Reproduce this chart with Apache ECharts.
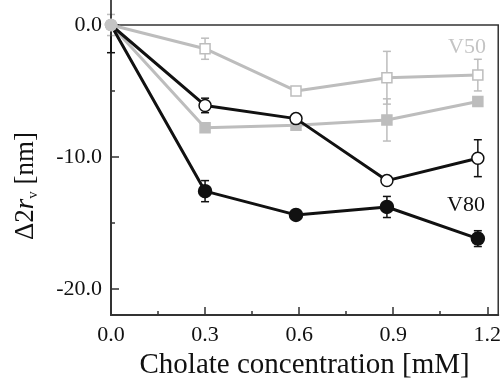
<!DOCTYPE html>
<html>
<head>
<meta charset="utf-8">
<script src="https://cdn.jsdelivr.net/npm/echarts@6/dist/echarts.min.js"></script>
<style>
  html, body { margin: 0; padding: 0; background: #fff; }
  #main { width: 504px; height: 385px; }
</style>
</head>
<body>
<div id="main"></div>
<script>
// x 值 (mM)
var conc = [0, 0.3, 0.59, 0.88, 1.17];
// V50 空心方块 / 实心方块
var v50Open = [0, -1.8, -5.0, -4.0, -3.8];
var v50OpenErr = [0.8, 0.8, 0, 2.0, 1.2];
var v50Fill = [0, -7.8, -7.6, -7.2, -5.8];
var v50FillErr = [0, 0, 0, 1.6, 0];
// V80 空心圆 / 实心圆
var v80Open = [0, -6.1, -7.1, -11.8, -10.1];
var v80OpenErr = [2.1, 0.55, 0.3, 0.3, 1.4];
var v80Fill = [0, -12.6, -14.4, -13.8, -16.2];
var v80FillErr = [0, 0.8, 0, 0.8, 0.6];
// 刻度
var xMajor = [0, 0.3, 0.6, 0.9, 1.2];
var xMinor = [0.15, 0.45, 0.75, 1.05];
var yMajor = [-20, -10, 0];
var yMinor = [-15, -5];

var GRAY = '#bdbdbd';
var BLACK = '#111';
var FONT = '"Liberation Serif", "DejaVu Serif", serif';

var chart = echarts.init(document.getElementById('main'));

function pts(ys) {
  return conc.map(function (x, i) {
    if (i === 0) {
      // 原点画成灰色圆点
      return { value: [x, ys[i]], symbol: 'circle', symbolSize: 11,
        itemStyle: { color: '#c4c4c4', borderColor: '#c4c4c4' } };
    }
    return [x, ys[i]];
  });
}

function errData(ys, es) {
  var out = [];
  conc.forEach(function (x, i) {
    if (es[i] > 0) out.push([x, ys[i], es[i]]);
  });
  return out;
}

// 误差棒
function errSeries(ys, es, color) {
  return {
    type: 'custom',
    silent: true,
    clip: false,
    z: 1,
    data: errData(ys, es),
    renderItem: function (params, api) {
      var x = api.value(0), y = api.value(1), e = api.value(2);
      var t = api.coord([x, y + e]);
      var b = api.coord([x, y - e]);
      var w = 4;
      var st = { stroke: color, lineWidth: 1.5 };
      return {
        type: 'group',
        children: [
          { type: 'line', shape: { x1: t[0], y1: t[1], x2: b[0], y2: b[1] }, style: st },
          { type: 'line', shape: { x1: t[0] - w, y1: t[1], x2: t[0] + w, y2: t[1] }, style: st },
          { type: 'line', shape: { x1: b[0] - w, y1: b[1], x2: b[0] + w, y2: b[1] }, style: st }
        ]
      };
    }
  };
}

function lineSeries(ys, color, symbol, fill, size, z) {
  return {
    type: 'line',
    data: pts(ys),
    symbol: symbol,
    symbolSize: size,
    showAllSymbol: true,
    z: z,
    lineStyle: { color: color, width: 3 },
    itemStyle: { color: fill, borderColor: color, borderWidth: 1.5 }
  };
}

var option = {
  animation: false,
  grid: {
    left: 111, right: 5, top: 25, bottom: 66,
    show: true, borderColor: '#333', borderWidth: 1.5
  },
  xAxis: [{
    type: 'value',
    min: 0, max: 1.235,
    name: 'Cholate concentration [mM]',
    nameLocation: 'middle',
    nameGap: 32,
    nameTextStyle: { fontFamily: FONT, fontSize: 29, color: '#111' },
    axisLine: { show: true, onZero: false, lineStyle: { color: '#333', width: 2 } },
    axisTick: { show: true, inside: true, length: 8, customValues: xMajor,
      lineStyle: { color: '#333', width: 1.5 } },
    axisLabel: { customValues: xMajor, margin: 9, fontFamily: FONT, fontSize: 22, color: '#111',
      formatter: function (v) { return v.toFixed(1); } },
    splitLine: { show: false }
  }, {
    type: 'value',
    min: 0, max: 1.235,
    position: 'bottom',
    offset: 0,
    axisLine: { show: false, onZero: false },
    axisTick: { show: true, inside: true, length: 4, customValues: xMinor,
      lineStyle: { color: '#333', width: 1.5 } },
    axisLabel: { show: false },
    splitLine: { show: false }
  }],
  yAxis: [{
    type: 'value',
    min: -22, max: 0,
    position: 'left',
    axisLine: { show: true, onZero: false, lineStyle: { color: '#333', width: 2 } },
    axisTick: { show: true, inside: true, length: 8, customValues: yMajor,
      lineStyle: { color: '#333', width: 1.5 } },
    axisLabel: { customValues: yMajor, margin: 9, fontFamily: FONT, fontSize: 22, color: '#111',
      formatter: function (v) { return v.toFixed(1); } },
    splitLine: { show: false }
  }, {
    type: 'value',
    min: -22, max: 0,
    position: 'left',
    offset: 0,
    axisLine: { show: false, onZero: false },
    axisTick: { show: true, inside: true, length: 4, customValues: yMinor,
      lineStyle: { color: '#333', width: 1.5 } },
    axisLabel: { show: false },
    splitLine: { show: false }
  }],
  graphic: [{
    type: 'text',
    x: 26, y: 186,
    rotation: Math.PI / 2,
    style: {
      text: '{a|Δ2}{i|r}{s|v}{a| [nm]}',
      align: 'center', verticalAlign: 'middle',
      rich: {
        a: { fontFamily: FONT, fontSize: 27, fill: '#111', lineHeight: 30 },
        i: { fontFamily: FONT, fontSize: 27, fontStyle: 'italic', fill: '#111', lineHeight: 30 },
        s: { fontFamily: FONT, fontSize: 15, fill: '#111', lineHeight: 14, verticalAlign: 'bottom' }
      }
    }
  }, {
    type: 'text',
    x: 467, y: 47,
    style: { text: 'V50', fontFamily: FONT, fontSize: 22, fill: '#c4c4c4',
      align: 'center', verticalAlign: 'middle' }
  }, {
    type: 'text',
    x: 466, y: 205,
    style: { text: 'V80', fontFamily: FONT, fontSize: 22, fill: '#111',
      align: 'center', verticalAlign: 'middle' }
  }],
  series: [
    errSeries(v50Open, v50OpenErr, GRAY),
    errSeries(v50Fill, v50FillErr, GRAY),
    errSeries(v80Open, v80OpenErr, BLACK),
    errSeries(v80Fill, v80FillErr, BLACK),
    lineSeries(v50Open, GRAY, 'rect', '#fff', 10, 2),
    lineSeries(v50Fill, GRAY, 'rect', GRAY, 10, 2),
    lineSeries(v80Open, BLACK, 'circle', '#fff', 12, 3),
    lineSeries(v80Fill, BLACK, 'circle', BLACK, 13, 3)
  ]
};
chart.setOption(option);
</script>
</body>
</html>
